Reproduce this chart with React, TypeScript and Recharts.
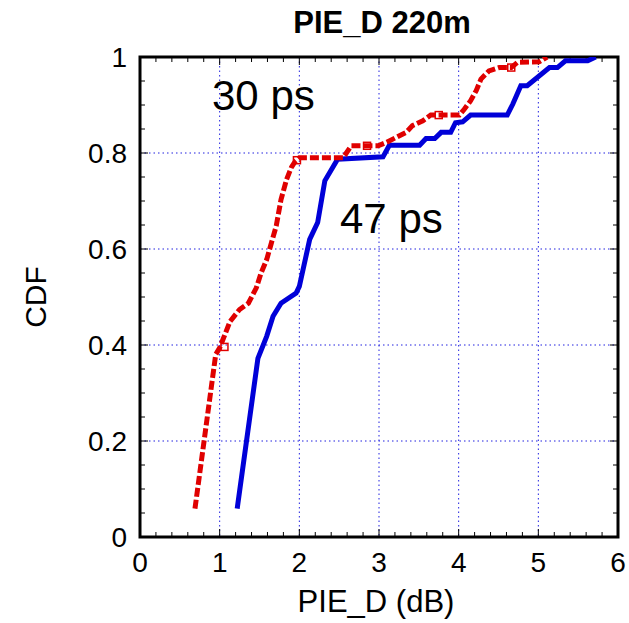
import { CartesianGrid, ComposedChart, Line, ReferenceArea, ReferenceLine, Scatter, XAxis, YAxis } from 'recharts';

const xTicks = [0, 1, 2, 3, 4, 5, 6];
const yTicks = [0, 0.2, 0.4, 0.6, 0.8, 1];
const yTickLabels = ['0', '0.2', '0.4', '0.6', '0.8', '1'];
const xMinor = Array.from({ length: 31 }, (_, i) => i * 0.2);
const yMinor = Array.from({ length: 21 }, (_, i) => i * 0.05);

// 30 ps curve (red, dashed)
const ps30X = [0.69, 0.95, 1.0, 1.13, 1.25, 1.36, 1.46, 1.52, 1.59, 1.65, 1.71, 1.77, 1.84, 1.9, 1.95, 2.0, 2.55, 2.65, 2.99, 3.09, 3.21, 3.34, 3.42, 3.55, 3.65, 4.01, 4.07, 4.15, 4.22, 4.28, 4.38, 4.51, 4.66, 4.74, 5.01, 5.11];
const ps30Y = [0.059, 0.38, 0.394, 0.449, 0.474, 0.487, 0.519, 0.55, 0.578, 0.613, 0.648, 0.703, 0.745, 0.77, 0.783, 0.79, 0.79, 0.815, 0.815, 0.822, 0.832, 0.843, 0.857, 0.867, 0.879, 0.879, 0.891, 0.909, 0.93, 0.954, 0.971, 0.978, 0.978, 0.989, 0.99, 1.0];
const ps30MarkX = [1.06, 1.97, 2.85, 3.75, 4.66];
const ps30MarkY = [0.396, 0.785, 0.815, 0.879, 0.978];

// 47 ps curve (blue, solid)
const ps47X = [1.22, 1.48, 1.59, 1.67, 1.77, 1.96, 2.0, 2.13, 2.23, 2.32, 2.48, 3.05, 3.13, 3.51, 3.59, 3.7, 3.78, 3.9, 3.96, 4.05, 4.15, 4.61, 4.68, 4.78, 4.86, 5.14, 5.24, 5.34, 5.62, 5.72];
const ps47Y = [0.059, 0.372, 0.418, 0.46, 0.487, 0.508, 0.522, 0.62, 0.655, 0.742, 0.787, 0.792, 0.816, 0.816, 0.83, 0.83, 0.843, 0.843, 0.863, 0.865, 0.879, 0.879, 0.902, 0.94, 0.94, 0.978, 0.978, 0.992, 0.992, 1.0];

const red = ps30X.map((x, i) => ({ x, y: ps30Y[i] }));
const blue = ps47X.map((x, i) => ({ x, y: ps47Y[i] }));
const redMarks = ps30MarkX.map((x, i) => ({ x, y: ps30MarkY[i] }));

const font = '"Liberation Sans", Arial, sans-serif';
const gridBlue = '#2020e0';
// tick lengths in data units (plot ~478px wide for 6 units, ~480px tall for 1 unit)
const tx = 1 / 79.7;
const ty = 1 / 480;

const HollowSquare = (props: any) => {
    const { cx, cy } = props;
    return <rect x={cx - 3.5} y={cy - 3.5} width={7} height={7} fill="none" stroke="#e00000" strokeWidth={1.5} />;
};

export default function App() {
    return (
        <div style={{ position: 'absolute', left: 0, top: 0, width: 629, height: 623, fontFamily: font, background: '#fff' }}>
            <ComposedChart width={629} height={623} margin={{ top: 57, right: 11, bottom: 26, left: 80 }}>
                <CartesianGrid stroke={gridBlue} strokeDasharray="1.5 3" strokeWidth={1} />
                <XAxis
                    type="number"
                    dataKey="x"
                    domain={[0, 6]}
                    ticks={xTicks}
                    allowDataOverflow
                    axisLine={false}
                    tickLine={false}
                    tickSize={13}
                    height={60}
                    tick={{ fontSize: 28, fill: '#000', fontFamily: font }}
                />
                <YAxis
                    type="number"
                    dataKey="y"
                    domain={[0, 1]}
                    ticks={yTicks}
                    tickFormatter={(v: number) => yTickLabels[yTicks.indexOf(v)] ?? String(v)}
                    allowDataOverflow
                    axisLine={false}
                    tickLine={false}
                    tickSize={11}
                    width={60}
                    tick={{ fontSize: 28, fill: '#000', fontFamily: font }}
                />
                {xMinor.map((v, i) => {
                    const len = i % 5 === 0 ? 8 : 5;
                    return [
                        <ReferenceLine key={`xb${i}`} segment={[{ x: v, y: 0 }, { x: v, y: len * ty }]} stroke="#000" strokeWidth={1} />,
                        <ReferenceLine key={`xt${i}`} segment={[{ x: v, y: 1 }, { x: v, y: 1 - len * ty }]} stroke="#000" strokeWidth={1} />,
                    ];
                })}
                {yMinor.map((v, i) => {
                    const len = i % 4 === 0 ? 8 : 5;
                    return [
                        <ReferenceLine key={`yl${i}`} segment={[{ x: 0, y: v }, { x: len * tx, y: v }]} stroke="#000" strokeWidth={1} />,
                        <ReferenceLine key={`yr${i}`} segment={[{ x: 6, y: v }, { x: 6 - len * tx, y: v }]} stroke="#000" strokeWidth={1} />,
                    ];
                })}
                <Line
                    data={blue}
                    dataKey="y"
                    type="linear"
                    stroke="#0000d8"
                    strokeWidth={5}
                    dot={false}
                    isAnimationActive={false}
                />
                <Line
                    data={red}
                    dataKey="y"
                    type="linear"
                    stroke="#e00000"
                    strokeWidth={5}
                    strokeDasharray="9 3"
                    dot={false}
                    isAnimationActive={false}
                />
                <Scatter data={redMarks} dataKey="y" shape={HollowSquare} isAnimationActive={false} />
                <ReferenceArea x1={0} x2={6} y1={0} y2={1} fill="none" stroke="#000" strokeWidth={3} ifOverflow="visible" />
            </ComposedChart>
            <svg width={629} height={623} style={{ position: 'absolute', left: 0, top: 0, pointerEvents: 'none' }} fontFamily={font}>
                <text x={382} y={33} textAnchor="middle" fontSize={31} fontWeight="bold" fill="#000">
                    PIE_D 220m
                </text>
                <text transform="translate(46, 297) rotate(-90)" textAnchor="middle" fontSize={30} fill="#000">
                    CDF
                </text>
                <text x={376} y={612} textAnchor="middle" fontSize={31} fill="#000">
                    PIE_D (dB)
                </text>
                <text x={212} y={110} fontSize={42} fill="#000">
                    30 ps
                </text>
                <text x={340} y={233} fontSize={42} fill="#000">
                    47 ps
                </text>
            </svg>
        </div>
    );
}
